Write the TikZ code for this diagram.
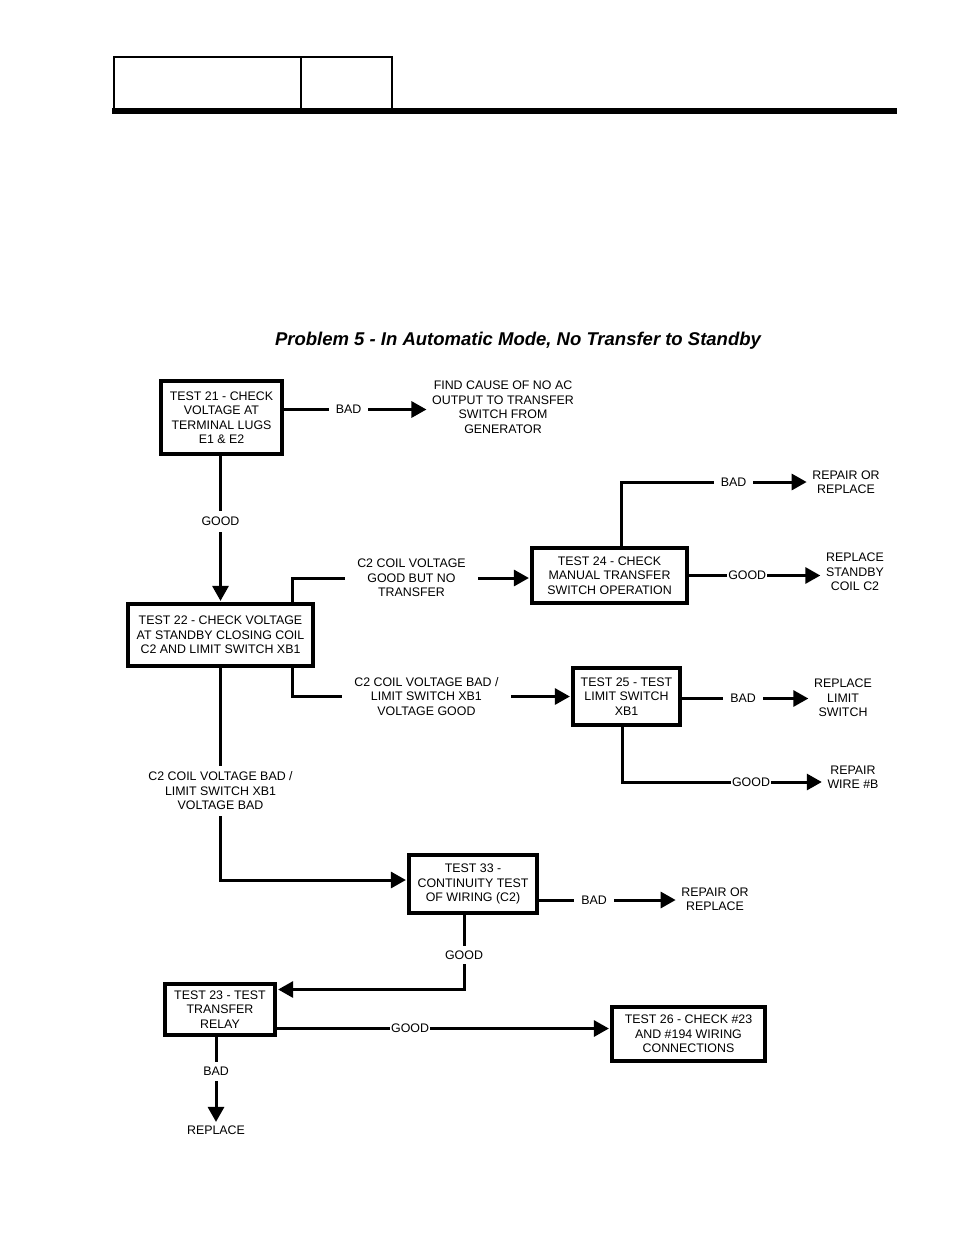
\documentclass[tikz,border=0pt]{standalone}
\usepackage{fontspec}
\setmainfont{Liberation Sans}
\usetikzlibrary{arrows.meta}
\begin{document}
\begin{tikzpicture}[x=1pt,y=-1pt,
  every node/.style={font=\fontsize{12.4}{14.5}\selectfont,align=center,inner sep=1pt},
  testbox/.style={draw,line width=3.2pt,inner sep=0pt},
  outcome/.style={inner xsep=4pt,inner ysep=2pt},
  lbl/.style={fill=white,inner xsep=7pt,inner ysep=1pt},
  tlbl/.style={fill=white,inner xsep=1pt,inner ysep=1pt},
  conn/.style={line width=3pt,shorten >=1.5pt,-{Triangle[length=15pt,width=16pt]}}]
\useasboundingbox (0,0) rectangle (954,1235);
% page header
\draw[line width=1.2pt] (114,110) -- (114,57) -- (392,57) -- (392,110);
\draw[line width=2pt] (113,57) -- (393,57);
\draw[line width=1.2pt] (301,57) -- (301,110);
\draw[line width=6pt] (112,111) -- (897,111);
\node (title) at (518,341) {\fontsize{18.5}{20}\selectfont\bfseries\itshape Problem 5 - In Automatic Mode, No Transfer to Standby};
% test boxes
\node[testbox,minimum width=121pt,minimum height=73pt] (t21) at (221.5,417.5) {TEST 21 - CHECK\\VOLTAGE AT\\TERMINAL LUGS\\E1 \& E2};
\node[testbox,minimum width=185pt,minimum height=62pt] (t22) at (220.5,635) {TEST 22 - CHECK VOLTAGE\\AT STANDBY CLOSING COIL\\C2 AND LIMIT SWITCH XB1};
\node[testbox,minimum width=155pt,minimum height=55pt] (t24) at (609.5,575.5) {TEST 24 - CHECK\\MANUAL TRANSFER\\SWITCH OPERATION};
\node[testbox,minimum width=107pt,minimum height=57pt] (t25) at (626.5,696.5) {TEST 25 - TEST\\LIMIT SWITCH\\XB1};
\node[testbox,minimum width=128pt,minimum height=58pt] (t33) at (473,884) {TEST 33 -\\CONTINUITY TEST\\OF WIRING (C2)};
\node[testbox,minimum width=110pt,minimum height=51pt] (t23) at (220,1009.5) {TEST 23 - TEST\\TRANSFER\\RELAY};
\node[testbox,minimum width=153pt,minimum height=54pt] (t26) at (688.5,1034) {TEST 26 - CHECK \#23\\AND \#194 WIRING\\CONNECTIONS};
% outcomes
\node[outcome] (find) at (503,407) {FIND CAUSE OF NO AC\\OUTPUT TO TRANSFER\\SWITCH FROM\\GENERATOR};
\node[outcome] (rep1) at (846,482) {REPAIR OR\\REPLACE};
\node[outcome] (coil) at (855,572) {REPLACE\\STANDBY\\COIL C2};
\node[outcome] (lim) at (843,698) {REPLACE\\LIMIT\\SWITCH};
\node[outcome] (rwire) at (853,777) {REPAIR\\WIRE \#B};
\node[outcome] (rep2) at (715,899) {REPAIR OR\\REPLACE};
\node[outcome] (repl) at (216,1130) {REPLACE};
% connectors
\draw[conn] ([yshift=8pt]t21.east) -- node[lbl,pos=0.45]{BAD} ([yshift=8pt]t21.east -| find.west);
\draw[conn] (t21.south -| t22.north) -- node[lbl,pos=0.45,inner ysep=6pt]{GOOD} (t22.north);
\draw[conn] ([xshift=-22pt]t22.north east) |- node[lbl,pos=0.75,inner xsep=12pt]{C2 COIL VOLTAGE\\GOOD BUT NO\\TRANSFER} ([yshift=-2.5pt]t24.west);
\draw[conn] ([xshift=12pt]t24.north) |- node[lbl,pos=0.8]{BAD} (rep1.west);
\draw[conn] (t24.east) -- node[tlbl,pos=0.44]{GOOD} (t24.east -| coil.west);
\draw[conn] ([xshift=-22pt]t22.south east) |- node[lbl,pos=0.74,inner xsep=12pt]{C2 COIL VOLTAGE BAD /\\LIMIT SWITCH XB1\\VOLTAGE GOOD} (t25.west);
\draw[conn] ([yshift=-2pt]t25.east) -- node[lbl,pos=0.48]{BAD} ([yshift=-2pt]t25.east -| lim.west);
\draw[conn] ([xshift=-4pt]t25.south) |- node[tlbl,pos=0.82]{GOOD} ([yshift=-5pt]rwire.west);
\draw[conn] (t22.south) |- node[lbl,pos=0.29,inner ysep=6pt]{C2 COIL VOLTAGE BAD /\\LIMIT SWITCH XB1\\VOLTAGE BAD} ([yshift=4pt]t33.west);
\draw[conn] ([yshift=-16pt]t33.east) -- node[lbl,pos=0.4]{BAD} ([yshift=-16pt]t33.east -| rep2.west);
\draw[conn] ([xshift=-9pt]t33.south) |- node[lbl,pos=0.27,inner ysep=5pt]{GOOD} ([yshift=20pt]t23.east);
\draw[conn] ([yshift=-19pt]t23.east) -- node[tlbl,pos=0.4]{GOOD} ([yshift=-19pt]t23.east -| t26.west);
\draw[conn] ([xshift=-4pt]t23.south) -- node[lbl,pos=0.4,inner ysep=5pt]{BAD} ([xshift=-4pt]t23.south |- repl.north);
\end{tikzpicture}
\end{document}
